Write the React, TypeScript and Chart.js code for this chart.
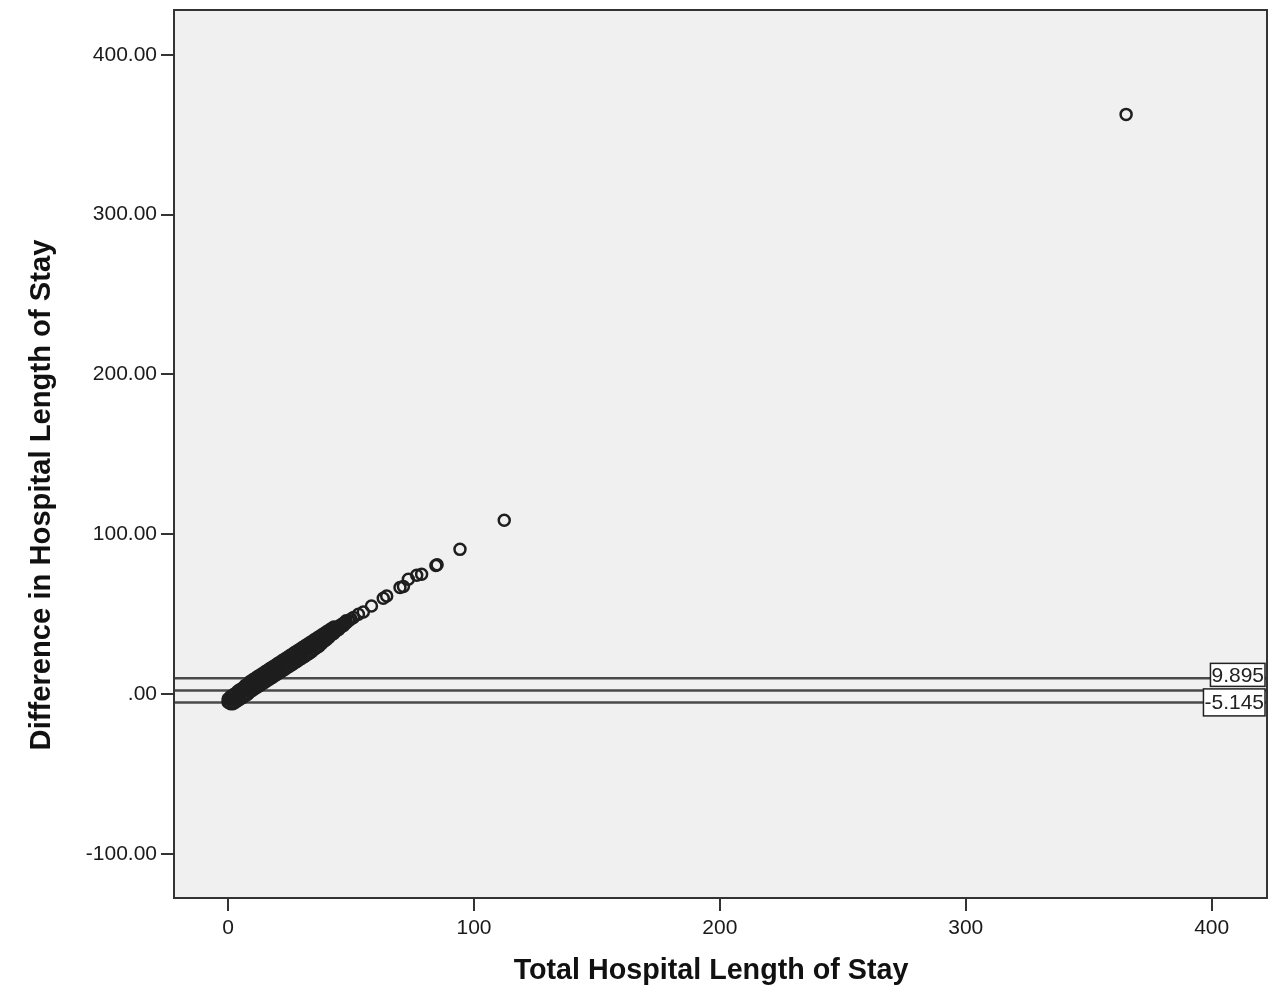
import React, { useEffect, useRef } from "react";
import { Chart, registerables } from "chart.js";

Chart.register(...registerables);

// Total hospital length of stay (x) and difference in length of stay (y)
const totalLOS: number[] = [
  0, 0, 1, 1, 1, 2, 2, 2, 3, 3, 3, 4, 4, 4, 5, 5, 5, 6, 6, 6, 7, 7, 7, 8, 8, 8,
  9, 9, 9, 10, 10, 10, 11, 11, 11, 12, 12, 12, 13, 13, 13, 14, 14, 14, 15, 15, 15,
  16, 16, 16, 17, 17, 17, 18, 18, 18, 19, 19, 19, 20, 20, 20, 21, 21, 21, 22, 22, 22,
  23, 23, 23, 24, 24, 24, 25, 25, 25, 26, 26, 26, 27, 27, 27, 28, 28, 28, 29, 29, 29,
  30, 30, 30, 31, 31, 31, 32, 32, 32, 33, 33, 33, 34, 34, 34, 35, 35, 35, 36, 36, 36,
  37, 37, 37, 38, 38, 38, 39, 39, 39, 40, 40, 40, 41, 41, 41, 42, 42, 42, 43, 43, 43,
  44, 44, 45, 45, 46, 46, 47, 47, 48, 48, 49, 50, 51,
  53, 55, 58.3, 63.1, 64.5, 69.9, 71.3, 73.3, 76.7, 78.7, 84.5, 85, 94.3, 112.3, 365.2,
];
const diffLOS: number[] = [
  -5, -3, -6, -3.5, -1.5, -6, -3, -0.5, -5, -2.5, 0.5, -4, -1, 2, -3, 0, 3, -2, 1.5, 4, -1, 2.5, 5.5, 0, 3.5, 6.5,
  1.5, 5, 8, 2.5, 6, 9, 3.5, 7, 10, 4.5, 8.5, 11, 5.5, 9, 12, 6.5, 10.5, 13, 7.5, 11, 14,
  8.5, 12.5, 15, 9.5, 13, 16, 10.5, 14.5, 17, 11.5, 15, 18, 12.5, 16.5, 19, 13.5, 17, 20, 14.5, 18.5, 21,
  15.5, 19, 22, 16.5, 20.5, 23, 17.5, 21, 24, 18.5, 22.5, 25, 19.5, 23, 26, 20.5, 24.5, 27, 21.5, 25, 28,
  22.5, 26.5, 29, 23.5, 27, 30, 24.5, 28.5, 31, 25.5, 29, 32, 26.5, 30.5, 33, 28, 31, 34, 29, 32.5, 35,
  30, 33, 36, 31.5, 34.5, 37, 33, 35, 38, 34, 36.5, 39, 35.5, 37.5, 40, 37, 39, 41, 38, 40, 42,
  39.5, 41.5, 40.5, 42.5, 42, 43.5, 43, 44.5, 44.5, 46, 46, 47, 48,
  50, 51.4, 55.2, 60, 61.4, 66.7, 67.3, 71.9, 74.4, 75, 80.5, 81, 90.6, 108.75, 362.7,
];

// Reference lines (upper limit, mean, lower limit)
const refValues: number[] = [9.895, 2.375, -5.145];
const refLabels: string[] = ["9.895", "", "-5.145"];

const xTicks: number[] = [0, 100, 200, 300, 400];
const yTicks: number[] = [-100, 0, 100, 200, 300, 400];

const xTitle = "Total Hospital Length of Stay";
const yTitle = "Difference in Hospital Length of Stay";

const FONT = '"Liberation Sans", Arial, sans-serif';

export default function App() {
  const ref = useRef<HTMLCanvasElement | null>(null);

  useEffect(() => {
    if (!ref.current) return;
    const points = totalLOS.map((x, i) => ({ x, y: diffLOS[i] }));

    const framePlugin = {
      id: "frame",
      beforeDraw(chart: any) {
        const { ctx, chartArea: a } = chart;
        ctx.save();
        ctx.fillStyle = "#f0f0f0";
        ctx.fillRect(a.left, a.top, a.right - a.left, a.bottom - a.top);
        ctx.restore();
      },
      beforeDatasetsDraw(chart: any) {
        const { ctx, chartArea: a } = chart;
        const ys = chart.scales.y;
        ctx.save();
        ctx.strokeStyle = "#4a4a4a";
        ctx.lineWidth = 2.5;
        refValues.forEach((v) => {
          const py = ys.getPixelForValue(v);
          ctx.beginPath();
          ctx.moveTo(a.left, py);
          ctx.lineTo(a.right, py);
          ctx.stroke();
        });
        ctx.restore();
      },
      afterDraw(chart: any) {
        const { ctx, chartArea: a } = chart;
        const ys = chart.scales.y;
        ctx.save();
        ctx.font = `21px ${FONT}`;
        ctx.textAlign = "right";
        ctx.textBaseline = "middle";
        refValues.forEach((v, i) => {
          const label = refLabels[i];
          if (!label) return;
          const py = ys.getPixelForValue(v);
          const cy = i === 0 ? py - 3.5 : py;
          const w = ctx.measureText(label).width + 2;
          const h = i === 0 ? 23 : 27;
          const right = a.right - 2;
          ctx.fillStyle = "#ffffff";
          ctx.fillRect(right - w, cy - h / 2, w, h);
          ctx.strokeStyle = "#222";
          ctx.lineWidth = 1.5;
          ctx.strokeRect(right - w, cy - h / 2, w, h);
          ctx.fillStyle = "#222";
          ctx.fillText(label, right - 1, cy + 1);
        });
        ctx.strokeStyle = "#333";
        ctx.lineWidth = 2;
        ctx.strokeRect(a.left, a.top, a.right - a.left, a.bottom - a.top);

        // axis titles
        ctx.fillStyle = "#111";
        ctx.textAlign = "center";
        ctx.textBaseline = "middle";
        ctx.font = `bold 28.7px ${FONT}`;
        ctx.fillText(xTitle, 711, 971);
        ctx.translate(42, 495);
        ctx.rotate(-Math.PI / 2);
        ctx.font = `bold 29.2px ${FONT}`;
        ctx.fillText(yTitle, 0, 0);
        ctx.restore();
      },
    };

    const chart = new Chart(ref.current, {
      type: "scatter",
      data: {
        datasets: [
          {
            data: points,
            pointRadius: 5.5,
            pointBorderWidth: 2.5,
            pointBorderColor: "#1e1e1e",
            pointBackgroundColor: "rgba(0,0,0,0)",
            pointHoverRadius: 5.5,
          },
        ],
      },
      options: {
        responsive: false,
        animation: false,
        devicePixelRatio: 1,
        layout: { padding: { top: 10, right: 13, left: 0, bottom: 0 } },
        plugins: {
          legend: { display: false },
          tooltip: { enabled: false },
        },
        scales: {
          x: {
            type: "linear",
            position: "bottom",
            min: -22,
            max: 422.5,
            afterBuildTicks: (s: any) => {
              s.ticks = xTicks.map((v) => ({ value: v }));
            },
            afterFit: (s: any) => {
              s.height = 109;
              s.paddingLeft = 0;
              s.paddingRight = 0;
            },
            grid: {
              drawOnChartArea: false,
              drawTicks: true,
              tickLength: 13,
              color: "#333",
              lineWidth: 2,
            },
            border: { display: true, color: "#333", width: 2 },
            ticks: {
              color: "#1a1a1a",
              padding: 5,
              font: { family: FONT, size: 21 },
              maxRotation: 0,
              callback: (v: any) => String(v),
            },
          },
          y: {
            type: "linear",
            position: "left",
            min: -127.5,
            max: 428,
            afterBuildTicks: (s: any) => {
              s.ticks = yTicks.map((v) => ({ value: v }));
            },
            afterFit: (s: any) => {
              s.width = 174;
              s.paddingTop = 0;
              s.paddingBottom = 0;
            },
            grid: {
              drawOnChartArea: false,
              drawTicks: true,
              tickLength: 13,
              color: "#333",
              lineWidth: 2,
            },
            border: { display: true, color: "#333", width: 2 },
            ticks: {
              color: "#1a1a1a",
              padding: 4,
              font: { family: FONT, size: 21 },
              callback: (v: any) => (Number(v) === 0 ? ".00" : Number(v).toFixed(2)),
            },
          },
        },
      },
      plugins: [framePlugin],
    });

    return () => chart.destroy();
  }, []);

  return (
    <div style={{ position: "absolute", left: 0, top: 0, width: 1280, height: 1007, background: "#ffffff" }}>
      <canvas ref={ref} width={1280} height={1007} style={{ display: "block" }} />
    </div>
  );
}
